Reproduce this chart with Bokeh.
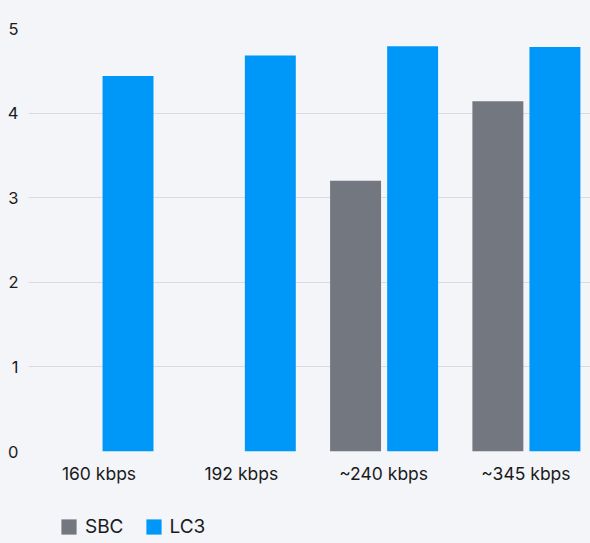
from bokeh.plotting import figure
from bokeh.layouts import column
from bokeh.models import ColumnDataSource, Range1d, Legend, LegendItem, FixedTicker
from bokeh.transform import dodge
from bokeh.embed import file_html
from bokeh.resources import INLINE

categories = ["160 kbps", "192 kbps", "~240 kbps", "~345 kbps"]
positions = [0, 1, 2, 3]
sbc = [0, 0, 3.2, 4.14]
lc3 = [4.44, 4.68, 4.79, 4.78]
y_ticks = [0, 1, 2, 3, 4, 5]
series_names = ["SBC", "LC3"]

BG = "#f3f5f9"
GRAY = "#737780"
BLUE = "#0098f8"
FONT = "Inter"
TXT = "#1a1a1c"

src = ColumnDataSource(dict(x=positions, sbc=sbc, lc3=lc3))

p = figure(x_range=Range1d(-0.4954, 3.454), y_range=(0, 5),
           width=590, height=495, output_backend="svg", toolbar_location=None,
           background_fill_color=BG, border_fill_color=BG,
           min_border_left=28, min_border_right=0, min_border_top=28, min_border_bottom=44)
p.outline_line_color = None

p.vbar(x=dodge("x", -0.197), top="sbc", width=0.358, source=src,
       fill_color=GRAY, line_color=None)
p.vbar(x=dodge("x", 0.204), top="lc3", width=0.358, source=src,
       fill_color=BLUE, line_color=None)

p.xgrid.grid_line_color = None
p.ygrid.grid_line_color = "#d8dbe1"
p.ygrid.grid_line_width = 1
p.yaxis.ticker = FixedTicker(ticks=y_ticks)
p.xaxis.ticker = FixedTicker(ticks=positions)
p.xaxis.major_label_overrides = {i: c for i, c in zip(positions, categories)}

for ax in (p.xaxis[0], p.yaxis[0]):
    ax.axis_line_color = None
    ax.major_tick_line_color = None
    ax.minor_tick_line_color = None
    ax.major_label_text_font = FONT
    ax.major_label_text_color = TXT
p.yaxis.major_label_text_font_size = "16.5px"
p.yaxis.major_tick_out = 0
p.yaxis.major_label_standoff = 10
p.xaxis.major_label_text_font_size = "17.5px"
p.xaxis.major_label_standoff = 5

# legend strip below the chart; its renderers are hidden, only the legend shows
lg = figure(x_range=(0, 1), y_range=(0, 1), width=590, height=48,
            output_backend="svg", toolbar_location=None,
            background_fill_color=BG, border_fill_color=BG,
            min_border_left=0, min_border_right=0, min_border_top=0, min_border_bottom=0)
lg.outline_line_color = None
lg.axis.visible = False
lg.grid.visible = False
l1 = lg.vbar(x="x", top="sbc", width=0.1, source=src, fill_color=GRAY, line_color=None)
l2 = lg.vbar(x="x", top="lc3", width=0.1, source=src, fill_color=BLUE, line_color=None)
l1.visible = False
l2.visible = False

legend = Legend(items=[LegendItem(label=series_names[0], renderers=[l1]),
                       LegendItem(label=series_names[1], renderers=[l2])],
                orientation="horizontal", location=(31, 5),
                background_fill_alpha=0, border_line_color=None,
                inactive_fill_alpha=0,
                label_text_font=FONT, label_text_font_size="19px", label_text_color=TXT,
                glyph_width=19, glyph_height=19, spacing=20, label_standoff=7,
                label_height=20, margin=0, padding=0)
lg.add_layout(legend, "center")

layout = column(p, lg, spacing=0, styles={"background-color": BG})
open("out.html", "w").write(file_html(layout, INLINE))
